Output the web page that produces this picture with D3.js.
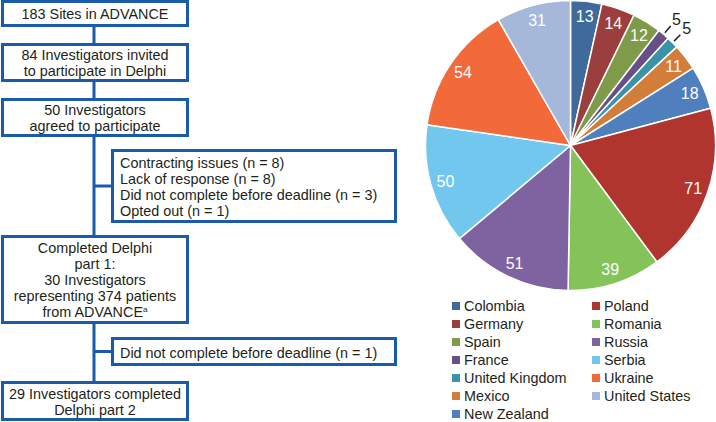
<!DOCTYPE html>
<html>
<head>
<meta charset="utf-8">
<script src="https://cdn.jsdelivr.net/npm/d3@7"></script>
<style>
  body { margin: 0; background: #fff; }
  svg { display: block; font-family: "Liberation Sans", Arial, sans-serif; }
</style>
</head>
<body>
<div id="chart"></div>
<script>
// country data (clockwise from 12 o'clock)
const countries = ["Colombia", "Germany", "Spain", "France", "United Kingdom", "Mexico",
  "New Zealand", "Poland", "Romania", "Russia", "Serbia", "Ukraine", "United States"];
const patients = [13, 14, 12, 5, 5, 11, 18, 71, 39, 51, 50, 54, 31];
const colors = ["#3f6a9c", "#9b3f3e", "#7f9a48", "#684f88", "#3a93a6", "#d27d3a",
  "#4f80bd", "#b0352e", "#83c35a", "#7f62a0", "#72c7ef", "#f26a3a", "#a6b8d9"];
// legend columns in reading order
const legendLeft = ["Colombia", "Germany", "Spain", "France", "United Kingdom", "Mexico", "New Zealand"];
const legendRight = ["Poland", "Romania", "Russia", "Serbia", "Ukraine", "United States"];

// flow chart steps
const mainSteps = [
  ["183 Sites in ADVANCE"],
  ["84 Investigators invited", "to participate in Delphi"],
  ["50 Investigators", "agreed to participate"],
  ["Completed Delphi", "part 1:", "30 Investigators", "representing 374 patients", "from ADVANCE"],
  ["29 Investigators completed", "Delphi part 2"]
];
const sideSteps = [
  ["Contracting issues (n = 8)", "Lack of response (n = 8)",
   "Did not complete before deadline (n = 3)", "Opted out (n = 1)"],
  ["Did not complete before deadline (n = 1)"]
];

const width = 716, height = 422;
const blue = "#1a5aa8", ink = "#231f20";
const fs = 14.4;

const svg = d3.select("#chart").append("svg")
  .attr("width", width)
  .attr("height", height);

// ---- flow chart ----
const mainBoxes = [
  {y0: 1.5, y1: 25.5},
  {y0: 44.5, y1: 80.5},
  {y0: 99.5, y1: 135.5},
  {y0: 236.5, y1: 322.5},
  {y0: 382.5, y1: 419.5}
];
const sideBoxes = [
  {y0: 150.5, y1: 221.5},
  {y0: 338.5, y1: 364.5}
];
const boxX0 = 2.5, boxX1 = 187.5, sideX0 = 112.5, sideX1 = 395.5;
const trunkX = 94, lineH = 16;

const flow = svg.append("g").attr("class", "flow");

// trunk line behind boxes
flow.append("line")
  .attr("x1", trunkX).attr("x2", trunkX)
  .attr("y1", mainBoxes[0].y1).attr("y2", mainBoxes[4].y0)
  .attr("stroke", blue).attr("stroke-width", 3);

sideBoxes.forEach(b => {
  flow.append("line")
    .attr("x1", trunkX).attr("x2", sideX0)
    .attr("y1", (b.y0 + b.y1) / 2).attr("y2", (b.y0 + b.y1) / 2)
    .attr("stroke", blue).attr("stroke-width", 3);
});

mainBoxes.forEach((b, i) => {
  flow.append("rect")
    .attr("x", boxX0).attr("y", b.y0)
    .attr("width", boxX1 - boxX0).attr("height", b.y1 - b.y0)
    .attr("fill", "#fff").attr("stroke", blue).attr("stroke-width", 3);
  const lines = mainSteps[i];
  const cy = (b.y0 + b.y1) / 2;
  const t = flow.append("text")
    .attr("text-anchor", "middle")
    .attr("font-size", fs)
    .attr("fill", ink);
  lines.forEach((l, j) => {
    const ts = t.append("tspan")
      .attr("x", (boxX0 + boxX1) / 2)
      .attr("y", cy + (j - (lines.length - 1) / 2) * lineH + 5.5)
      .text(l);
    if (i === 3 && j === lines.length - 1) {
      ts.append("tspan").attr("font-size", 8).attr("dy", -5).text("a");
    }
  });
});

sideBoxes.forEach((b, i) => {
  flow.append("rect")
    .attr("x", sideX0).attr("y", b.y0)
    .attr("width", sideX1 - sideX0).attr("height", b.y1 - b.y0)
    .attr("fill", "#fff").attr("stroke", blue).attr("stroke-width", 3);
  const lines = sideSteps[i];
  const cy = (b.y0 + b.y1) / 2;
  const t = flow.append("text")
    .attr("font-size", fs)
    .attr("fill", ink);
  lines.forEach((l, j) => {
    t.append("tspan")
      .attr("x", 120)
      .attr("y", cy + (j - (lines.length - 1) / 2) * lineH + 6)
      .text(l);
  });
});

// ---- pie ----
const cx = 570.5, cy = 145.5, r = 145;
const pieData = countries.map((c, i) => ({country: c, value: patients[i], color: colors[i]}));

const pie = d3.pie().value(d => d.value).sort(null);
const arc = d3.arc().innerRadius(0).outerRadius(r);
const labelArc = d3.arc().innerRadius(130).outerRadius(130);
const arcs = pie(pieData);

const pg = svg.append("g").attr("transform", `translate(${cx},${cy})`);

pg.selectAll("path")
  .data(arcs)
  .join("path")
  .attr("d", arc)
  .attr("fill", d => d.data.color)
  .attr("stroke", "#fff")
  .attr("stroke-width", 1.5);

const inside = arcs.filter(d => d.data.value > 5);
const outside = arcs.filter(d => d.data.value <= 5);

pg.selectAll("text.in")
  .data(inside)
  .join("text")
  .attr("class", "in")
  .attr("transform", d => `translate(${labelArc.centroid(d)})`)
  .attr("text-anchor", "middle")
  .attr("dy", "0.36em")
  .attr("font-size", 16)
  .attr("fill", "#fff")
  .text(d => d.data.value);

const mid = d => (d.startAngle + d.endAngle) / 2;
pg.selectAll("line.lead")
  .data(outside)
  .join("line")
  .attr("class", "lead")
  .attr("x1", d => 147 * Math.sin(mid(d)))
  .attr("y1", d => -147 * Math.cos(mid(d)))
  .attr("x2", d => 156 * Math.sin(mid(d)))
  .attr("y2", d => -156 * Math.cos(mid(d)))
  .attr("stroke", ink)
  .attr("stroke-width", 1.5);

pg.selectAll("text.out")
  .data(outside)
  .join("text")
  .attr("class", "out")
  .attr("x", d => 165 * Math.sin(mid(d)))
  .attr("y", d => -165 * Math.cos(mid(d)))
  .attr("text-anchor", "middle")
  .attr("dy", "0.36em")
  .attr("font-size", 16)
  .attr("fill", ink)
  .text(d => d.data.value);

// ---- legend ----
const colorOf = d3.scaleOrdinal().domain(countries).range(colors);
const legend = svg.append("g").attr("class", "legend");
[[legendLeft, 452], [legendRight, 592]].forEach(([names, x0]) => {
  const rows = legend.append("g").selectAll("g")
    .data(names)
    .join("g")
    .attr("transform", (d, i) => `translate(${x0},${306 + i * 18})`);
  rows.append("rect")
    .attr("x", 0).attr("y", -4)
    .attr("width", 8).attr("height", 8)
    .attr("fill", d => colorOf(d));
  rows.append("text")
    .attr("x", 12)
    .attr("dy", "0.36em")
    .attr("font-size", fs)
    .attr("fill", ink)
    .text(d => d);
});
</script>
</body>
</html>
